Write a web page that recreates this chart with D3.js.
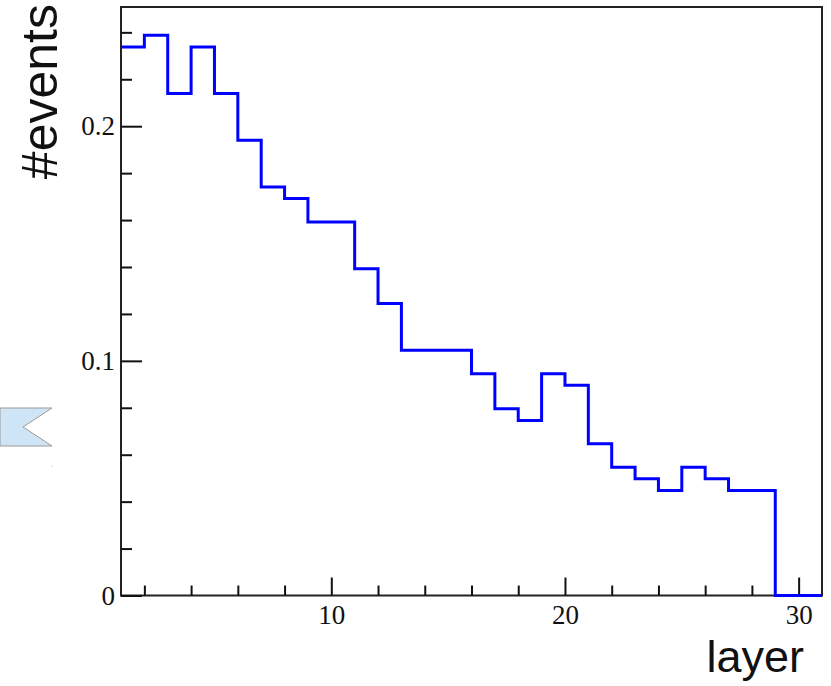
<!DOCTYPE html>
<html>
<head>
<meta charset="utf-8">
<script src="https://cdn.jsdelivr.net/npm/d3@7"></script>
<style>
  html, body { margin: 0; padding: 0; background: #fff; }
  svg { display: block; }
</style>
</head>
<body>
<svg id="chart" width="831" height="686"></svg>
<script>
// ---- data ----
const binLow = [1,2,3,4,5,6,7,8,9,10,11,12,13,14,15,16,17,18,19,20,21,22,23,24,25,26,27,28,29,30];
const binWidth = 1;
const values = [0.2338,0.2388,0.2139,0.2338,0.2139,0.1940,0.1741,0.1692,0.1592,0.1592,
                0.1393,0.1244,0.1045,0.1045,0.1045,0.0945,0.0796,0.0746,0.0945,0.0896,
                0.0647,0.0547,0.0498,0.0448,0.0547,0.0498,0.0448,0.0448,0,0];
const xMajorTicks = [10, 20, 30];
const xMinorTicks = [2,4,6,8,12,14,16,18,22,24,26,28];
const yMajorTicks = [0, 0.1, 0.2];
const yMinorTicks = [0.02,0.04,0.06,0.08,0.12,0.14,0.16,0.18,0.22,0.24];
const xTitle = "layer";
const yTitle = "#events";

// ---- layout ----
const L = 121, R = 822, T = 7, B = 595.5;
const svg = d3.select("#chart");

const x = d3.scaleLinear().domain([1, 31]).range([L, R]);
const y = d3.scaleLinear().domain([0, 0.2508]).range([B, T]);

// decorative flag on the left
svg.append("polygon")
  .attr("points", "0,408 52,408 23,427 52,446 0,446")
  .attr("fill", "#cfe4f4")
  .attr("stroke", "#9a9a9a")
  .attr("stroke-width", 1);
svg.append("rect").attr("x", 51.5).attr("y", 465.5).attr("width", 1).attr("height", 1).attr("fill", "#bbb");

// frame
svg.append("rect")
  .attr("x", L).attr("y", T).attr("width", R - L).attr("height", B - T)
  .attr("fill", "none").attr("stroke", "#222").attr("stroke-width", 2);

const fontSerif = "'Liberation Serif', 'Times New Roman', serif";
const fontSans = "'Liberation Sans', Arial, Helvetica, sans-serif";

// axes
function styleAxis(g) {
  g.select(".domain").remove();
  g.selectAll("line").attr("stroke", "#111").attr("stroke-width", 2);
  g.selectAll("text").attr("font-family", fontSerif).attr("font-size", 27).attr("fill", "#111");
}

svg.append("g").attr("transform", `translate(0,${B})`)
  .call(d3.axisBottom(x).tickValues(xMinorTicks).tickSize(-10).tickFormat(""))
  .call(styleAxis);
svg.append("g").attr("transform", `translate(0,${B})`)
  .call(d3.axisBottom(x).tickValues(xMajorTicks).tickSize(-18).tickPadding(9).tickFormat(d3.format("d")))
  .call(styleAxis);

svg.append("g").attr("transform", `translate(${L},0)`)
  .call(d3.axisLeft(y).tickValues(yMinorTicks).tickSize(-11).tickFormat(""))
  .call(styleAxis);
svg.append("g").attr("transform", `translate(${L},0)`)
  .call(d3.axisLeft(y).tickValues(yMajorTicks).tickSize(-21).tickPadding(6).tickFormat(d => d === 0 ? "0" : d3.format(".1f")(d)))
  .call(styleAxis);

// histogram outline
const pts = [];
binLow.forEach((lo, i) => {
  pts.push([x(lo), y(values[i])]);
  pts.push([x(lo + binWidth), y(values[i])]);
});
svg.append("path")
  .attr("d", d3.line()(pts))
  .attr("fill", "none")
  .attr("stroke", "#0000ff")
  .attr("stroke-width", 3)
  .attr("stroke-linejoin", "miter");

// titles
svg.append("text")
  .attr("transform", "translate(57,4) rotate(-90)")
  .attr("text-anchor", "end")
  .attr("font-family", fontSans).attr("font-size", 50).attr("fill", "#111")
  .text(yTitle);
svg.append("text")
  .attr("x", 804).attr("y", 672)
  .attr("text-anchor", "end")
  .attr("font-family", fontSans).attr("font-size", 45).attr("fill", "#111")
  .text(xTitle);
</script>
</body>
</html>
